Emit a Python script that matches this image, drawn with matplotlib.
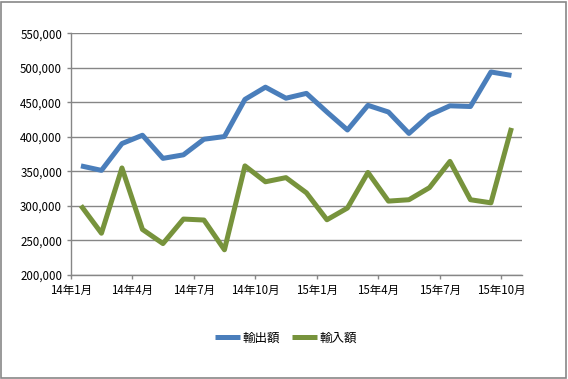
import matplotlib
matplotlib.use("Agg")
import matplotlib.pyplot as plt
from matplotlib.patches import Rectangle
from matplotlib.ticker import FuncFormatter

plt.rcParams['font.family'] = ['Noto Sans CJK JP', 'DejaVu Sans']

months = ["14年1月", "14年2月", "14年3月", "14年4月", "14年5月", "14年6月",
          "14年7月", "14年8月", "14年9月", "14年10月", "14年11月", "14年12月",
          "15年1月", "15年2月", "15年3月", "15年4月", "15年5月", "15年6月",
          "15年7月", "15年8月", "15年9月", "15年10月"]
exports = [358000, 351500, 390300, 402400, 368900, 374000, 396600, 400500,
           454300, 472000, 456000, 463000, 436000, 410000, 445700, 436000,
           405000, 431600, 445000, 444000, 494000, 489000]
imports = [300500, 260500, 355000, 266000, 245500, 281000, 279600, 236500,
           358000, 335000, 341000, 319000, 280000, 297000, 348500, 307000,
           309000, 326500, 364500, 309000, 304500, 413000]
series_names = ["輸出額", "輸入額"]
tick_labels = ["14年1月", "14年4月", "14年7月", "14年10月",
               "15年1月", "15年4月", "15年7月", "15年10月"]

W, H = 568, 379
fig = plt.figure(figsize=(W / 100, H / 100), dpi=100)
left, right, top, bottom = 70.7, 521.7, 33.3, 275.0
ax = fig.add_axes([left / W, 1 - bottom / H, (right - left) / W, (bottom - top) / H])

x = list(range(len(months)))
ax.plot(x, exports, color="#4A7EBB", lw=3.6, solid_joinstyle="round",
        solid_capstyle="butt", label=series_names[0])
ax.plot(x, imports, color="#77933C", lw=3.6, solid_joinstyle="round",
        solid_capstyle="butt", label=series_names[1])

ax.set_xlim(-0.5, len(months) - 0.5)
ax.set_ylim(200000, 550000)
ax.set_yticks(range(200000, 550001, 50000))
ax.yaxis.set_major_formatter(FuncFormatter(lambda v, p: f"{int(v):,}"))
ticks = [months.index(t) - 0.5 for t in tick_labels]
ax.set_xticks(ticks)
ax.set_xticklabels(tick_labels)

ax.grid(axis="y", color="#868686", lw=1.0)
ax.set_axisbelow(True)
for s in ["top", "right"]:
    ax.spines[s].set_visible(False)
for s in ["left", "bottom"]:
    ax.spines[s].set_color("#868686")
    ax.spines[s].set_linewidth(1.0)
ax.tick_params(axis="both", colors="#868686", length=3, width=1.0,
               labelcolor="black", labelsize=8.3, pad=3.2)

fig.legend(loc="center", bbox_to_anchor=(286 / W, 1 - 338 / H), ncol=2,
           frameon=False, fontsize=9, handlelength=2.0, handletextpad=0.15,
           columnspacing=1.0)

fig.patches.append(Rectangle((0.5 / W, 1.5 / H), (W - 2.5) / W, (H - 3) / H,
                             transform=fig.transFigure, fill=False,
                             edgecolor="#888888", lw=1.2))

fig.savefig("out.png", dpi=100)
